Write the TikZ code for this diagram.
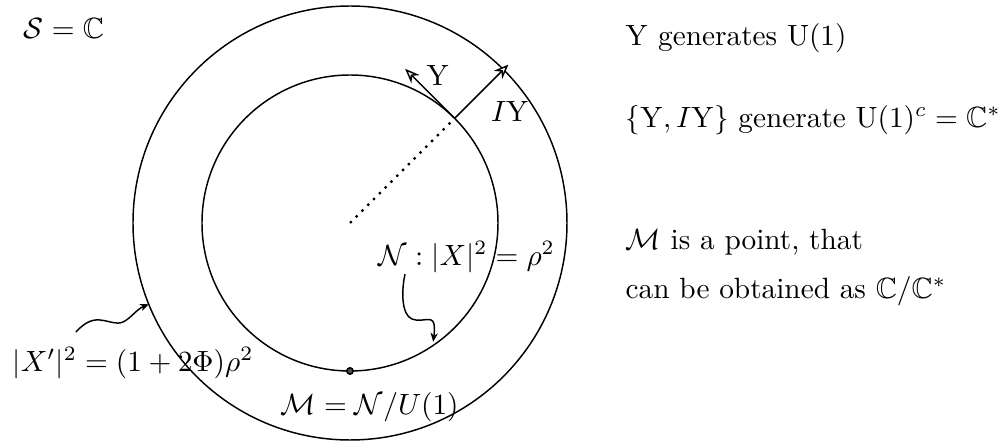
\documentclass[tikz,border=0pt]{standalone}
\usepackage{amssymb}
\usetikzlibrary{arrows.meta,calc}
\tikzset{
	vec/.style={->, >={Stealth[length=5pt,width=4pt,open,fill=white]}},
	squig/.style={->, >={Stealth[length=3pt,width=2.5pt]}},
	txt/.style={anchor=west, inner sep=0pt}
}
\begin{document}
\begin{tikzpicture}[x=0.012cm,y=0.012cm,line width=0.5pt]
		\useasboundingbox (-350,-221) rectangle (657,223);

		\coordinate (O) at (0,0);
		\draw (O) circle (217);
		\draw (O) circle (148);

		\coordinate (P) at (45:148);
		\coordinate (Ytip) at ($(P)+(135:70)$);
		\coordinate (IYtip) at (45:224);
		\draw[dotted, thick] (O) -- (P);
		\draw[vec] (P) -- (Ytip);
		\draw[vec] (P) -- (IYtip);
		\node (Ylab) at (88,148) {$\mathrm{Y}$};
		\node (IYlab) at (160,112) {$I\mathrm{Y}$};

		\node (Slab) at (-286,195) {$\mathcal{S}=\mathbb{C}$};
		\node[txt] (Xplab) at (-338,-140) {$|X'|^2=(1+2\Phi)\rho^2$};
		\node[txt] (Nlab) at (28,-34) {$\mathcal{N}:|X|^2=\rho^2$};
		\node[txt] (Mlab) at (-70,-184) {$\mathcal{M}=\mathcal{N}/U(1)$};

		\coordinate (Mpt) at (270:148);
		\draw[fill=black!70] (Mpt) circle (1.1pt);

		% wavy pointers
		\coordinate (Xs) at (-274,-109);
		\coordinate (Xe) at (202:217);
		\draw[squig] (Xs) .. controls (-266,-100) and (-258,-96) .. (-250,-97)
			.. controls (-240,-98) and (-234,-102) .. (-227,-99)
			.. controls (-220,-96) and (-213,-86) .. (Xe);
		\coordinate (Ns) at (55,-51);
		\coordinate (Ne) at (-55:145);
		\draw[squig] (Ns) .. controls (51,-70) and (52,-92) .. (62,-96)
			.. controls (72,-100) and (82,-92) .. (84,-101)
			.. controls (85,-106) and (84,-112) .. (Ne);

		\node[txt] (r1) at (275,185) {$\mathrm{Y}$ generates $\mathrm{U}(1)$};
		\node[txt] (r2) at (275,103) {$\{\mathrm{Y},I\mathrm{Y}\}$ generate $\mathrm{U}(1)^c=\mathbb{C}^*$};
		\node[txt] (r3) at (275,-19) {$\mathcal{M}$ is a point, that};
		\node[txt] (r4) at (275,-68) {can be obtained as $\mathbb{C}/\mathbb{C}^*$};
	\end{tikzpicture}
\end{document}
